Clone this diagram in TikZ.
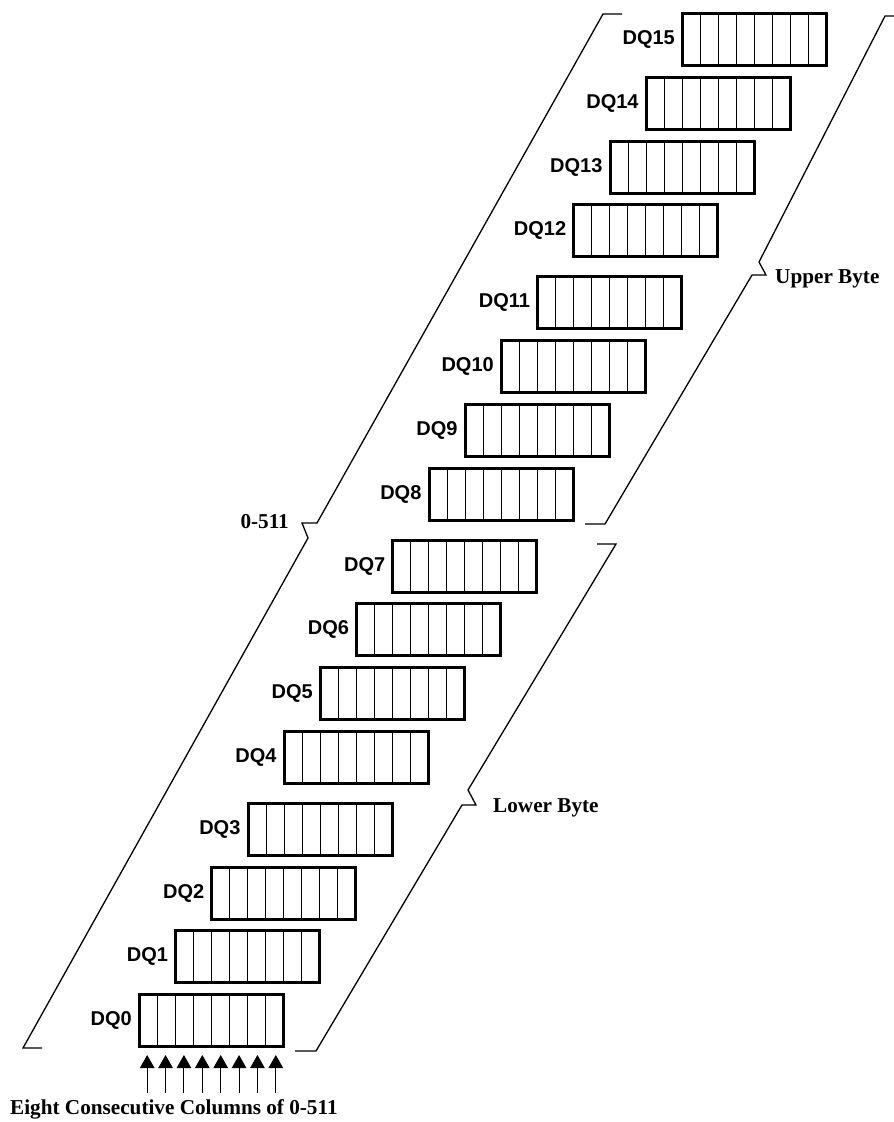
\documentclass[tikz,border=0pt]{standalone}
\usepackage{fontspec}
\setmainfont{Liberation Serif}
\setsansfont{Liberation Sans}
\usepackage{tikz}
\usetikzlibrary{calc,positioning,arrows.meta}
\tikzset{
  dq_box/.style={draw, line width=3pt, minimum width=144pt, minimum height=52pt, inner sep=0pt,
    path picture={\foreach \k in {1,...,7}
      \draw[line width=0.9pt] ($(path picture bounding box.north west)!\k/8!(path picture bounding box.north east)$) -- ($(path picture bounding box.south west)!\k/8!(path picture bounding box.south east)$);}},
  dq_lbl/.style={inner sep=0pt, font=\sffamily\bfseries\fontsize{20}{23}\selectfont},
  cap_txt/.style={inner sep=0pt, font=\bfseries\fontsize{21.2}{24}\selectfont},
  brc/.style={line width=1.3pt},
  col_arr/.style={line width=0.9pt, -{Triangle[length=13pt,width=14.5pt]}}
}
\begin{document}
\begin{tikzpicture}[x=1pt,y=-1pt]
			\useasboundingbox (0,0) rectangle (894,1122);
			\node[dq_box] (dq0) at (211.5,1020.5) {};
			\node[dq_box] (dq1) at (247.7,956.75) {};
			\node[dq_box] (dq2) at (283.9,893) {};
			\node[dq_box] (dq3) at (320.1,829.25) {};
			\node[dq_box] (dq4) at (356.3,757.25) {};
			\node[dq_box] (dq5) at (392.5,693.5) {};
			\node[dq_box] (dq6) at (428.7,629.75) {};
			\node[dq_box] (dq7) at (464.9,566) {};
			\node[dq_box] (dq8) at (501.1,494) {};
			\node[dq_box] (dq9) at (537.3,430.25) {};
			\node[dq_box] (dq10) at (573.5,366.5) {};
			\node[dq_box] (dq11) at (609.7,302.75) {};
			\node[dq_box] (dq12) at (645.9,230.75) {};
			\node[dq_box] (dq13) at (682.1,167) {};
			\node[dq_box] (dq14) at (718.3,103.25) {};
			\node[dq_box] (dq15) at (754.5,39.5) {};
			\node[dq_lbl, left=6pt of dq0] (l0) {DQ0};
			\node[dq_lbl, left=6pt of dq1] (l1) {DQ1};
			\node[dq_lbl, left=6pt of dq2] (l2) {DQ2};
			\node[dq_lbl, left=6pt of dq3] (l3) {DQ3};
			\node[dq_lbl, left=6pt of dq4] (l4) {DQ4};
			\node[dq_lbl, left=6pt of dq5] (l5) {DQ5};
			\node[dq_lbl, left=6pt of dq6] (l6) {DQ6};
			\node[dq_lbl, left=6pt of dq7] (l7) {DQ7};
			\node[dq_lbl, left=6pt of dq8] (l8) {DQ8};
			\node[dq_lbl, left=6pt of dq9] (l9) {DQ9};
			\node[dq_lbl, left=6pt of dq10] (l10) {DQ10};
			\node[dq_lbl, left=6pt of dq11] (l11) {DQ11};
			\node[dq_lbl, left=6pt of dq12] (l12) {DQ12};
			\node[dq_lbl, left=6pt of dq13] (l13) {DQ13};
			\node[dq_lbl, left=6pt of dq14] (l14) {DQ14};
			\node[dq_lbl, left=6pt of dq15] (l15) {DQ15};
			\foreach \k in {1,...,8} {
				\coordinate (ah\k) at ($(dq0.south west)!{(\k-0.5)/8}!(dq0.south east) + (0,7)$);
				\coordinate (at\k) at ($(ah\k) + (0,38)$);
				\draw[col_arr] (at\k) -- (ah\k);
			}
			\node[cap_txt, anchor=base west] (cols) at (10,1114) {Eight Consecutive Columns of 0-511};
			\draw[brc] (622,14) -- (603,14) -- (317,523) -- (302,523) -- (308,538) -- (23,1048) -- (42,1048);
			\node[cap_txt, anchor=base east] (all) at (289,528) {0-511};
			\draw[brc] (894,16) -- (885,16) -- (759,262) -- (766,275) -- (752,275) -- (605,524) -- (585,524);
			\node[cap_txt, anchor=base west] (upper) at (775,283) {Upper Byte};
			\draw[brc] (597,544) -- (616,544) -- (468,790) -- (476,805) -- (462,805) -- (316,1051) -- (295,1051);
			\node[cap_txt, anchor=base west] (lower) at (493,812) {Lower Byte};
\end{tikzpicture}
\end{document}
